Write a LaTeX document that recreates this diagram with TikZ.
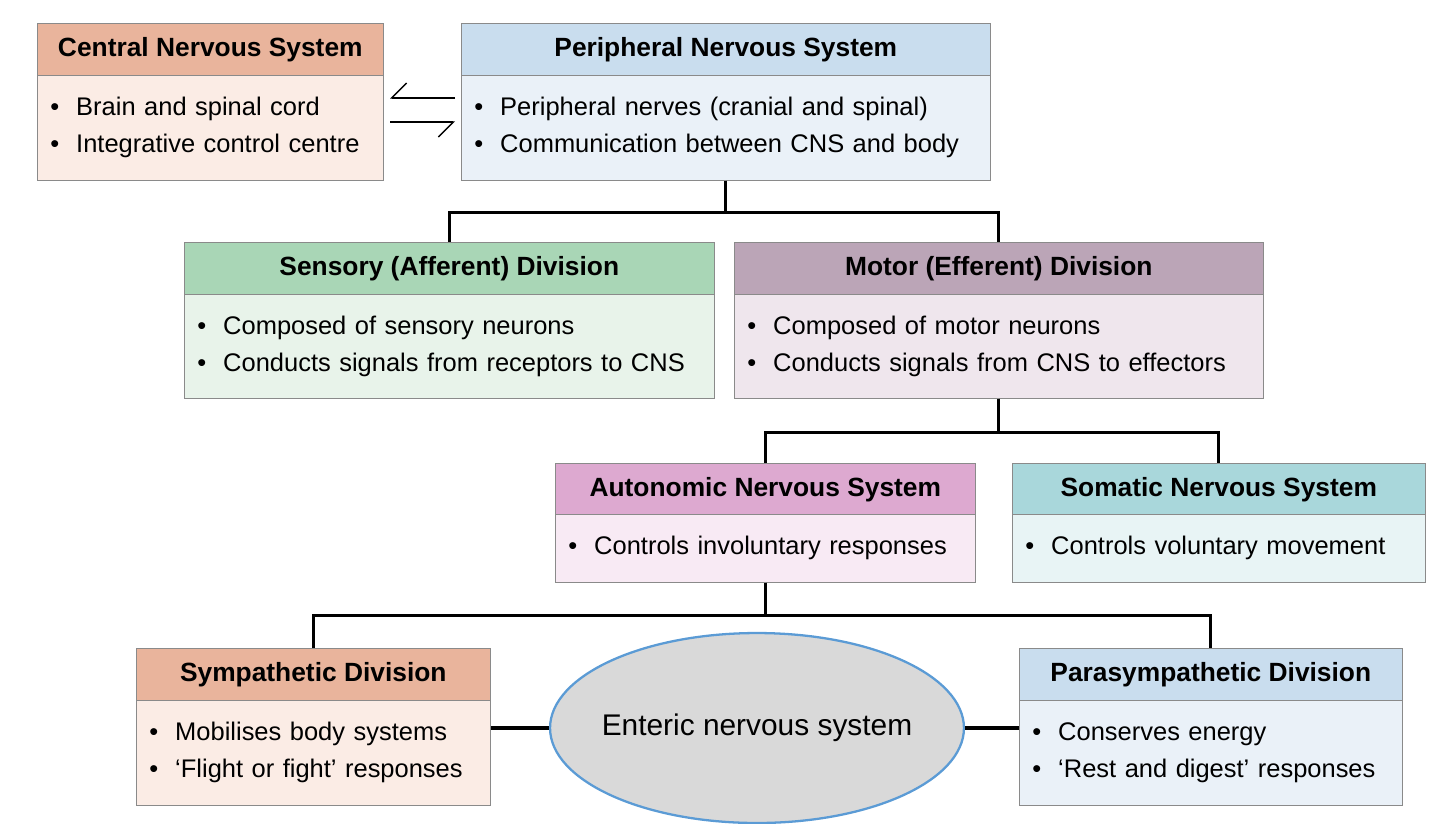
\documentclass[tikz,border=0pt]{standalone}
\usepackage{fontspec}
\setmainfont{Liberation Sans}
\usetikzlibrary{arrows.meta,shapes.geometric}
\definecolor{salmonH}{HTML}{E9B49C}
\definecolor{salmonB}{HTML}{FBECE5}
\definecolor{blueH}{HTML}{C9DDEE}
\definecolor{blueB}{HTML}{EAF1F8}
\definecolor{greenH}{HTML}{A9D6B6}
\definecolor{greenB}{HTML}{E8F3EA}
\definecolor{mauveH}{HTML}{BBA5B7}
\definecolor{mauveB}{HTML}{EFE6ED}
\definecolor{pinkH}{HTML}{DDA9D0}
\definecolor{pinkB}{HTML}{F8EAF4}
\definecolor{tealH}{HTML}{A9D7DB}
\definecolor{tealB}{HTML}{E8F4F5}
\definecolor{edge}{HTML}{8A8A8A}
\begin{document}
\begin{tikzpicture}[x=0.02cm,y=-0.02cm,font=\fontsize{14.5}{17}\selectfont,
head/.style={draw=edge, fill=#1, font=\fontsize{15}{18}\selectfont\bfseries, minimum height=1.04cm, anchor=north west, inner sep=0pt},
body/.style={draw=edge, fill=#1, anchor=north west, align=left, inner xsep=0.26cm, inner ysep=0pt},
tree/.style={line width=1.6pt, black}]
\useasboundingbox (0,0) rectangle (1440,823);

% top row
\node[head=salmonH, minimum width=6.92cm] (cnsh) at (37,23) {Central Nervous System};
\node[body=salmonB, text width=6.4cm, minimum height=2.1cm] (cnsb) at (37,75) {\textbullet\ \ Brain and spinal cord\\[4pt]\textbullet\ \ Integrative control centre};
\node[head=blueH, minimum width=10.58cm] (pnsh) at (461,23) {Peripheral Nervous System};
\node[body=blueB, text width=10.06cm, minimum height=2.1cm] (pnsb) at (461,75) {\textbullet\ \ Peripheral nerves (cranial and spinal)\\[4pt]\textbullet\ \ Communication between CNS and body};

% second row
\node[head=greenH, minimum width=10.6cm] (sensh) at (184,242) {Sensory (Afferent) Division};
\node[body=greenB, text width=10.08cm, minimum height=2.08cm] (sensb) at (184,294) {\textbullet\ \ Composed of sensory neurons\\[4pt]\textbullet\ \ Conducts signals from receptors to CNS};
\node[head=mauveH, minimum width=10.58cm] (moth) at (734,242) {Motor (Efferent) Division};
\node[body=mauveB, text width=10.06cm, minimum height=2.08cm] (motb) at (734,294) {\textbullet\ \ Composed of motor neurons\\[4pt]\textbullet\ \ Conducts signals from CNS to effectors};

% third row
\node[head=pinkH, minimum width=8.4cm] (auth) at (555,463) {Autonomic Nervous System};
\node[body=pinkB, text width=7.88cm, minimum height=1.36cm] (autb) at (555,514) {\textbullet\ \ Controls involuntary responses};
\node[head=tealH, minimum width=8.26cm] (somh) at (1012,463) {Somatic Nervous System};
\node[body=tealB, text width=7.74cm, minimum height=1.36cm] (somb) at (1012,514) {\textbullet\ \ Controls voluntary movement};

% bottom row
\node[head=salmonH, minimum width=7.08cm] (symh) at (136,648) {Sympathetic Division};
\node[body=salmonB, text width=6.56cm, minimum height=2.1cm] (symb) at (136,700) {\textbullet\ \ Mobilises body systems\\[4pt]\textbullet\ \ `Flight or fight' responses};
\node[head=blueH, minimum width=7.66cm] (parh) at (1019,648) {Parasympathetic Division};
\node[body=blueB, text width=7.14cm, minimum height=2.1cm] (parb) at (1019,700) {\textbullet\ \ Conserves energy\\[4pt]\textbullet\ \ `Rest and digest' responses};
\node[ellipse, draw={rgb,255:red,91;green,155;blue,213}, line width=1.3pt, fill={rgb,255:red,217;green,217;blue,217}, minimum width=8.28cm, minimum height=3.8cm, inner sep=0pt] (ens) at (757,728) {};
\node[font=\fontsize{17}{20}\selectfont] (enslabel) at (ens.center) {Enteric nervous system};

% exchange between CNS and PNS
\coordinate (l1) at (390,98); \coordinate (r1) at (455,98);
\coordinate (l2) at (390,122); \coordinate (r2) at (455,122);
\draw[-{Straight Barb[right,length=3mm]}, thick] (r1) -- (l1);
\draw[-{Straight Barb[right,length=3mm]}, thick] (l2) -- (r2);

% tree
\draw[tree] (pnsb.south) -- ++(0,32) -| (sensh.north);
\draw[tree] (pnsb.south) -- ++(0,32) -| (moth.north);
\draw[tree] (motb.south) -- ++(0,34) -| (auth.north);
\draw[tree] (motb.south) -- ++(0,34) -| (somh.north);
\draw[tree] (autb.south) -- ++(0,33) -| (symh.north);
\draw[tree] (autb.south) -- ++(0,33) -| (parh.north);
\draw[tree, line width=2.6pt] (ens.west) -- (ens.west -| symb.east);
\draw[tree, line width=2.6pt] (ens.east) -- (ens.east -| parb.west);
\end{tikzpicture}
\end{document}
